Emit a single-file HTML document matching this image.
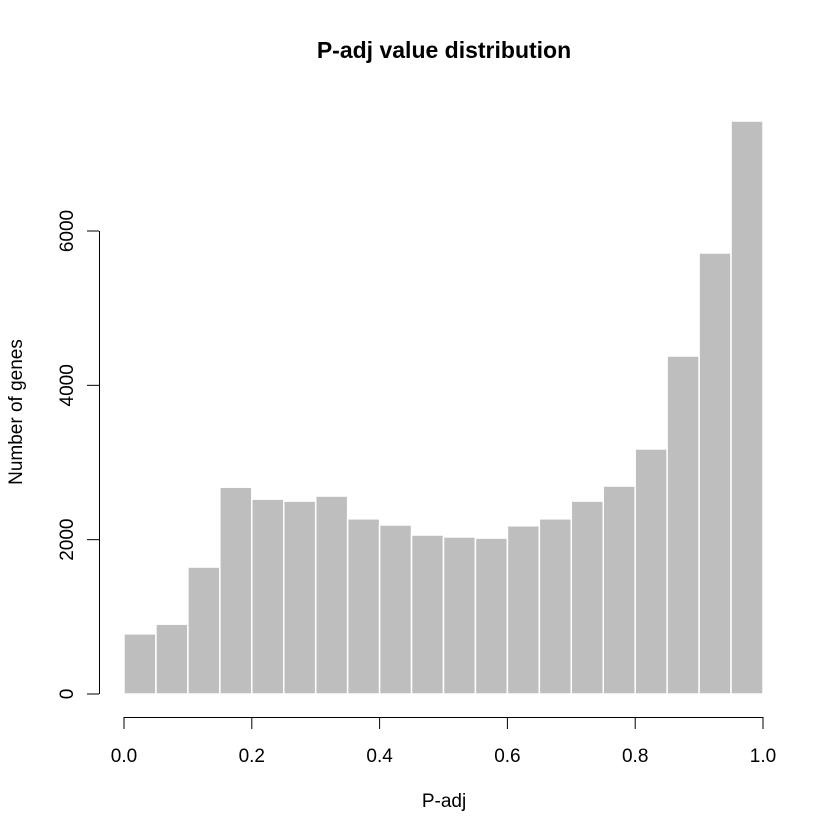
<!DOCTYPE html>
<html><head><meta charset="utf-8"><style>
body{margin:0;background:#fff}
svg{display:block;font-family:"Liberation Sans",sans-serif}
</style></head><body>
<svg id="chart" width="840" height="840">
<text x="444" y="58" text-anchor="middle" font-size="23" font-weight="bold">P-adj value distribution</text>
<text x="444" y="807" text-anchor="middle" font-size="19">P-adj</text>
<text transform="translate(22,412) rotate(-90)" text-anchor="middle" font-size="19">Number of genes</text>
<g id="bars"></g>
<g id="xaxis"></g>
<g id="yaxis"></g>
</svg>
<script>
const binStarts=[0,0.05,0.1,0.15,0.2,0.25,0.3,0.35,0.4,0.45,0.5,0.55,0.6,0.65,0.7,0.75,0.8,0.85,0.9,0.95];
const counts=[780,905,1645,2680,2525,2500,2565,2270,2190,2060,2035,2020,2180,2270,2500,2695,3175,4380,5715,7425];
const xTicks=[0,0.2,0.4,0.6,0.8,1.0];
const xTickLabels=["0.0","0.2","0.4","0.6","0.8","1.0"];
const yTicks=[0,2000,4000,6000];
const binWidth=0.05;
const NS="http://www.w3.org/2000/svg";
const xs=v=>124+v*(763-124);
const ys=v=>694-v*(694-231)/6000;
function mk(tag,attrs,parent){const e=document.createElementNS(NS,tag);for(const k in attrs)e.setAttribute(k,attrs[k]);parent.appendChild(e);return e;}
const bars=document.getElementById('bars');
binStarts.forEach((b,i)=>{
 const x0=xs(b),x1=xs(b+binWidth);
 const r=mk('rect',{x:x0,y:ys(counts[i]),width:x1-x0,height:ys(0)-ys(counts[i]),fill:'#bebebe',stroke:'#fff','stroke-width':1.5},bars);
 
 
});
const xa=document.getElementById('xaxis');
mk('line',{x1:xs(0),x2:xs(1),y1:717.5,y2:717.5,stroke:'#000'},xa);
xTicks.forEach((t,i)=>{
 mk('line',{x1:xs(t),x2:xs(t),y1:717,y2:729,stroke:'#000'},xa);
 const tx=mk('text',{x:xs(t),y:762,'text-anchor':'middle','font-size':19},xa);
 tx.textContent=xTickLabels[i];
 
 
});
const ya=document.getElementById('yaxis');
mk('line',{x1:99.5,x2:99.5,y1:ys(0),y2:ys(6000),stroke:'#000'},ya);
yTicks.forEach(t=>{
 mk('line',{x1:87,x2:99,y1:ys(t),y2:ys(t),stroke:'#000'},ya);
 const tx=mk('text',{transform:`translate(73,${ys(t)}) rotate(-90)`,'text-anchor':'middle','font-size':19},ya);
 tx.textContent=String(t);
 
 
});
</script>
</body></html>
